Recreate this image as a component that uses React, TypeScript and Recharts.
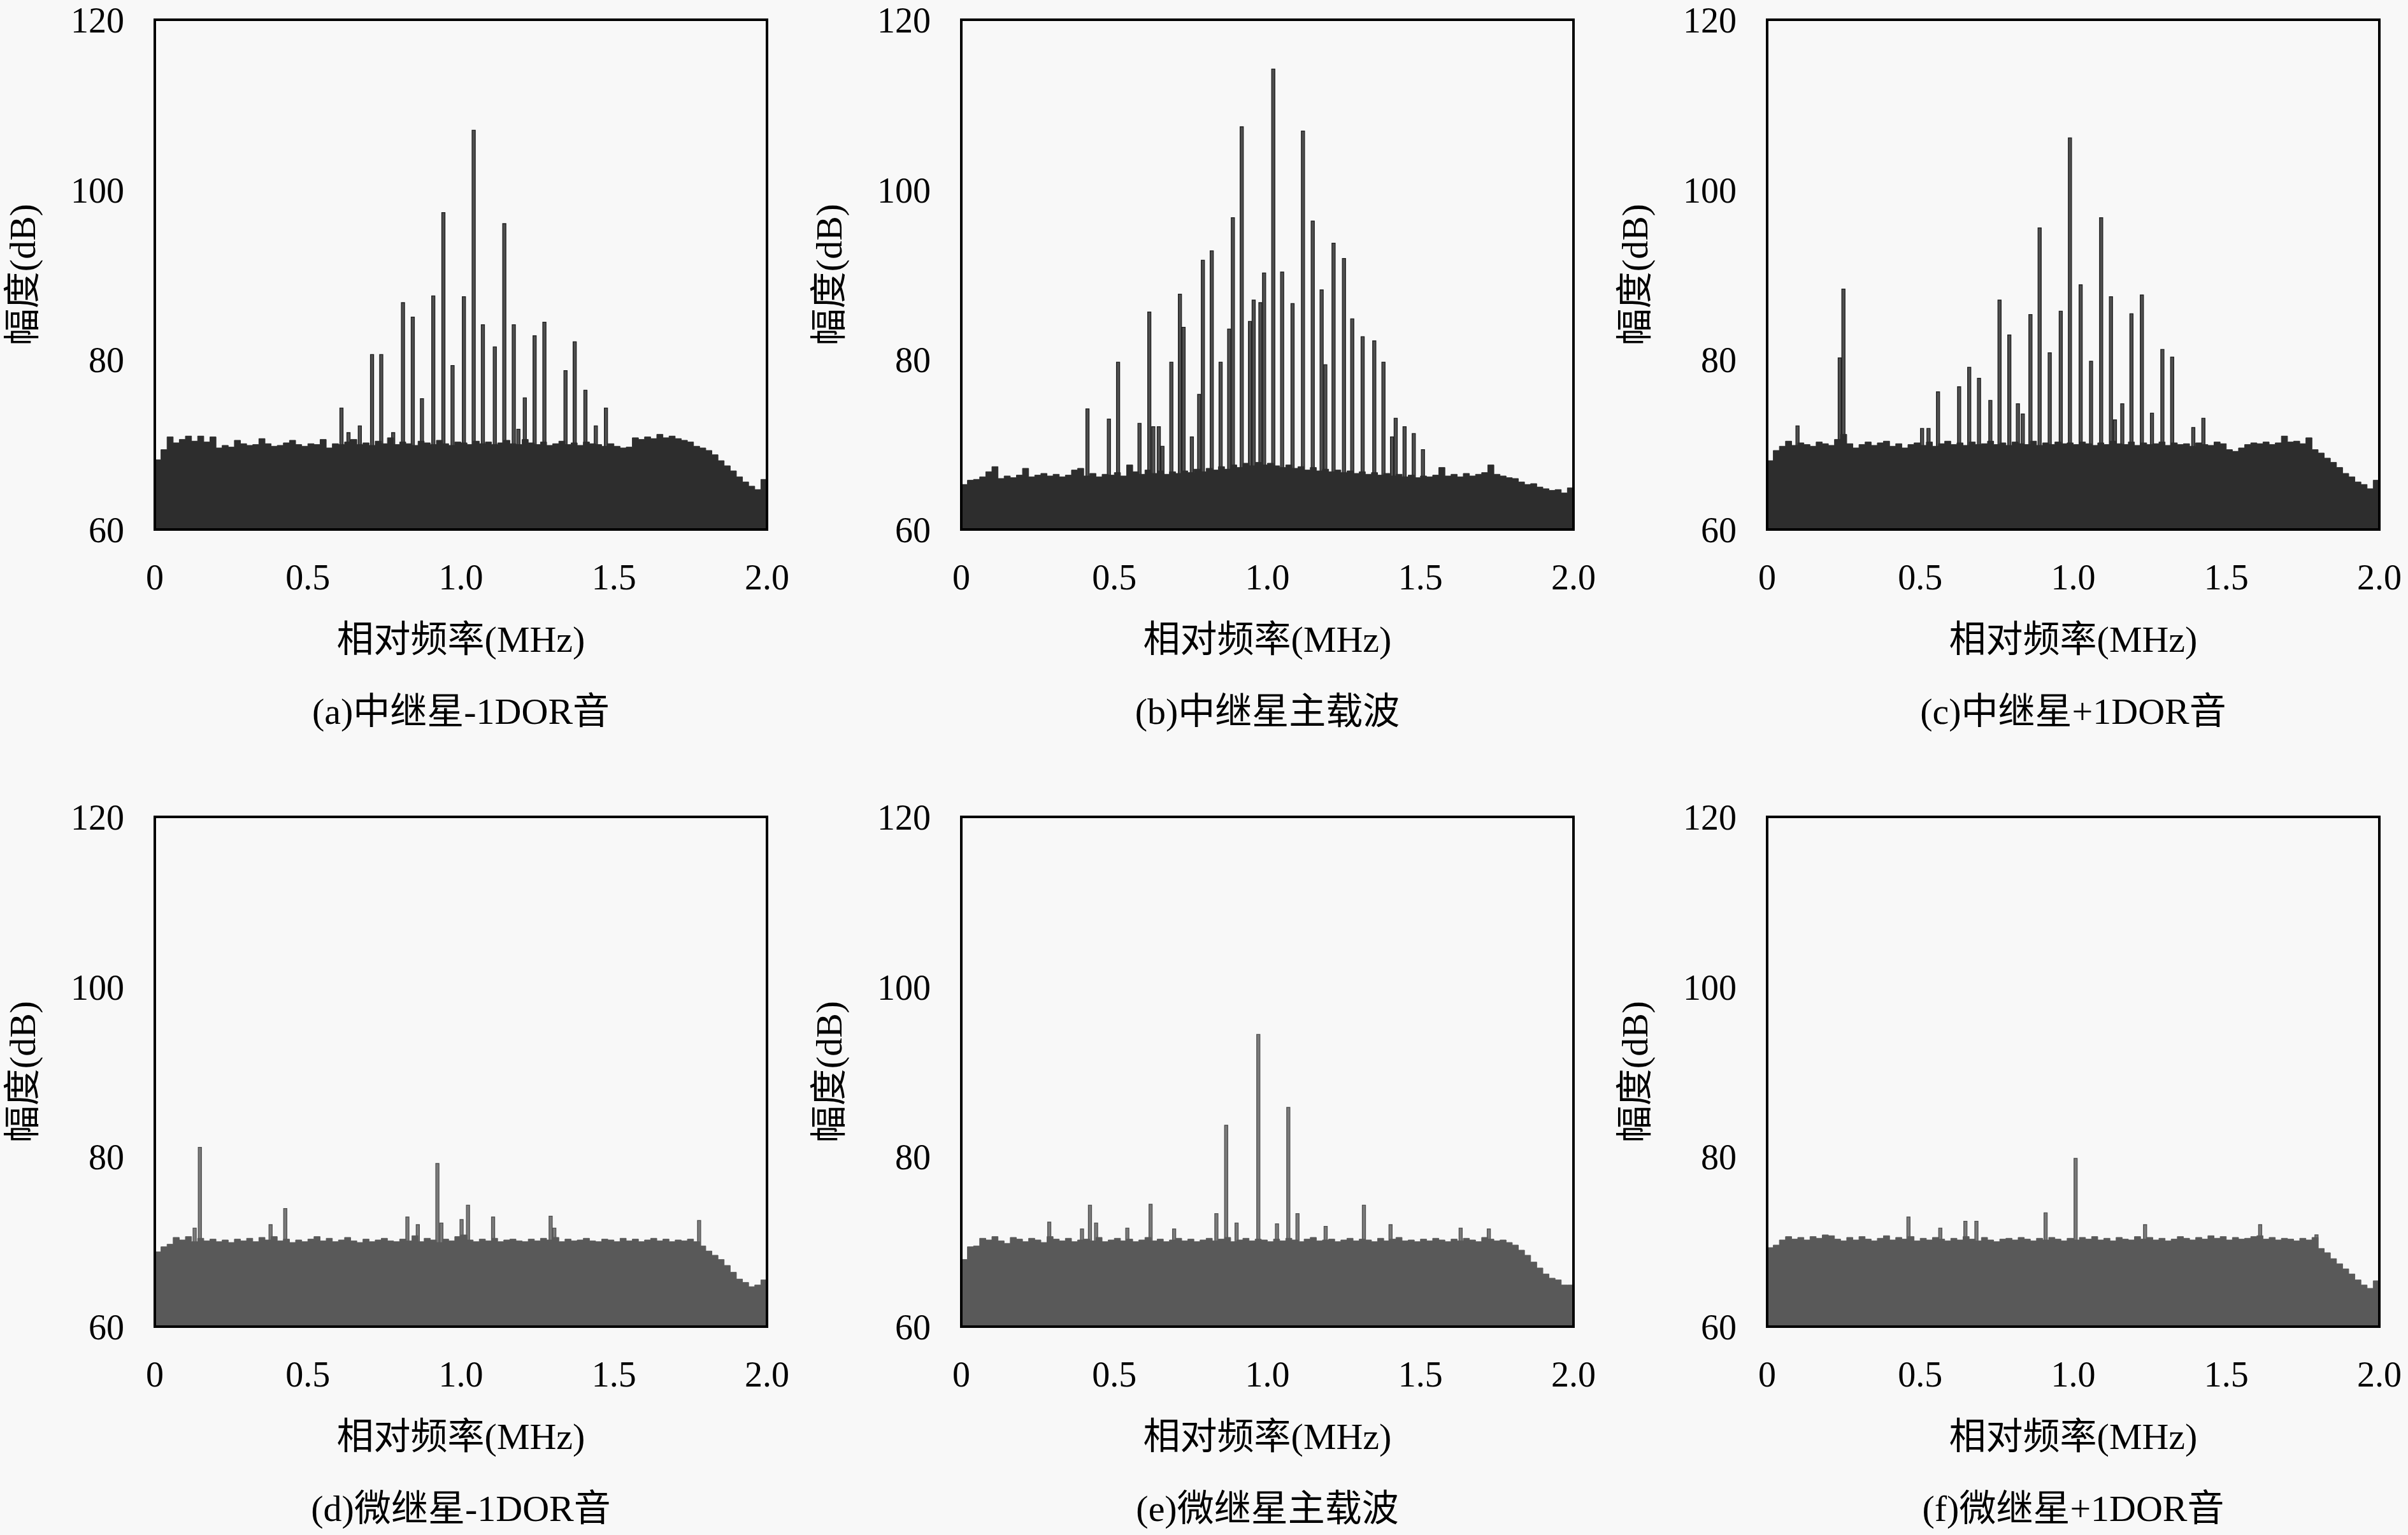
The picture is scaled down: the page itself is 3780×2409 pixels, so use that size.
import { Area, AreaChart, Bar, BarChart, XAxis, YAxis } from "recharts";

const SERIF = "'Liberation Serif', 'DejaVu Serif', 'Noto Sans CJK SC', serif";

// spectrum bins (MHz), one floor value per bin
const BIN_MHZ = [
  0, 0.02, 0.04, 0.06, 0.08, 0.1, 0.12, 0.14, 0.16, 0.18,
  0.2, 0.22, 0.24, 0.26, 0.28, 0.3, 0.32, 0.34, 0.36, 0.38,
  0.4, 0.42, 0.44, 0.46, 0.48, 0.5, 0.52, 0.54, 0.56, 0.58,
  0.6, 0.62, 0.64, 0.66, 0.68, 0.7, 0.72, 0.74, 0.76, 0.78,
  0.8, 0.82, 0.84, 0.86, 0.88, 0.9, 0.92, 0.94, 0.96, 0.98,
  1.0, 1.02, 1.04, 1.06, 1.08, 1.1, 1.12, 1.14, 1.16, 1.18,
  1.2, 1.22, 1.24, 1.26, 1.28, 1.3, 1.32, 1.34, 1.36, 1.38,
  1.4, 1.42, 1.44, 1.46, 1.48, 1.5, 1.52, 1.54, 1.56, 1.58,
  1.6, 1.62, 1.64, 1.66, 1.68, 1.7, 1.72, 1.74, 1.76, 1.78,
  1.8, 1.82, 1.84, 1.86, 1.88, 1.9, 1.92, 1.94, 1.96, 1.98,
  2.0,
];

const X_TICKS = [0, 0.5, 1, 1.5, 2];
const Y_TICKS = [60, 80, 100, 120];
const X_TITLE = "相对频率(MHz)";
const Y_TITLE = "幅度(dB)";

const FLOOR_A = [
  68.2, 69.4, 70.9, 70.2, 70.6, 71.0, 70.4, 71.0, 70.3, 70.9,
  69.6, 69.9, 69.7, 70.5, 70.1, 69.9, 70.0, 70.7, 70.1, 69.8,
  69.9, 70.2, 70.5, 70.0, 69.8, 70.1, 70.0, 70.6, 69.6, 70.1,
  70.0, 70.3, 70.6, 70.0, 70.2, 69.9, 70.4, 70.1, 70.8, 70.0,
  70.3, 70.1, 69.9, 70.4, 70.2, 70.0, 70.5, 70.1, 69.9, 70.3,
  70.2, 70.0, 70.4, 70.1, 70.3, 70.0, 70.2, 70.5, 70.1, 70.0,
  70.6, 70.2, 70.0, 70.3, 69.9, 70.1, 70.4, 70.0, 70.2, 69.9,
  70.3, 70.1, 70.0, 69.8, 70.1, 69.8, 69.6, 69.7, 70.8, 70.6,
  70.9, 70.7, 71.2, 70.8, 71.0, 70.7, 70.5, 70.3, 69.8, 69.6,
  69.3, 68.8, 68.1, 67.5, 66.9, 66.2, 65.6, 65.1, 64.7, 65.9,
  64.4,
];
const FLOOR_B = [
  65.3, 65.8, 65.9, 66.2, 66.8, 67.4, 66.0, 66.3, 66.1, 66.4,
  67.2, 66.2, 66.4, 66.6, 66.3, 66.5, 66.2, 66.4, 67.0, 67.2,
  66.3, 66.6, 66.2, 66.5, 66.4, 66.7, 66.3, 67.6, 66.8, 66.5,
  67.0, 66.6, 66.9, 66.5, 66.8, 66.6, 66.9, 66.7, 67.1, 66.8,
  67.2, 67.0, 67.4, 67.1, 67.6, 67.3, 67.8, 67.5, 67.9, 67.6,
  67.8, 67.5, 67.3, 67.6, 67.2, 67.4, 67.0, 67.3, 66.9, 67.1,
  66.8, 67.0, 66.7, 66.9, 66.6, 66.8, 66.5, 66.7, 66.4, 66.6,
  66.3, 66.5, 66.2, 66.4, 66.1, 66.3, 66.2, 66.4, 67.3, 66.3,
  66.5, 66.2, 66.6, 66.3, 66.5, 66.7, 67.6, 66.5, 66.3, 66.1,
  66.0, 65.6, 65.3, 65.4, 65.0, 64.8, 64.6, 64.7, 64.3, 64.9,
  63.8,
];
const FLOOR_C = [
  68.1, 69.3, 69.8, 70.4, 69.9, 70.2, 70.0, 69.8, 70.3, 70.1,
  69.9, 70.6, 71.2, 70.1, 69.6, 70.0, 70.3, 69.9, 70.2, 70.4,
  69.8, 70.1, 69.6, 70.0, 70.2, 69.9, 70.3, 69.8, 70.1, 70.4,
  70.0, 70.2, 69.9, 70.3, 70.0, 70.1, 70.4, 70.0, 70.2, 69.9,
  70.3, 70.1, 70.0, 70.4, 69.9, 70.2, 70.0, 70.3, 70.1, 70.2,
  70.0, 70.3, 70.1, 69.9, 70.2, 70.0, 70.4, 70.1, 70.0, 70.3,
  69.9, 70.2, 70.0, 70.1, 70.3, 69.9, 70.2, 70.0, 70.1, 69.8,
  70.2, 70.0, 69.9, 70.3, 70.1, 69.4, 69.2, 69.6, 70.0, 70.2,
  70.1, 70.3, 70.0, 70.2, 71.0, 70.3, 70.4, 70.1, 70.8, 69.4,
  69.0, 68.4, 67.9, 67.3, 66.6, 66.2, 65.6, 65.3, 64.8, 65.8,
  63.6,
];
const FLOOR_D = [
  68.8, 69.4, 69.7, 70.5, 70.2, 70.6, 70.0, 70.4, 70.1, 70.3,
  70.0, 70.2, 69.9, 70.3, 70.1, 70.4, 70.0, 70.5, 70.2, 70.6,
  70.1, 70.3, 69.9, 70.2, 70.0, 70.3, 70.6, 70.1, 70.4, 70.0,
  70.2, 70.5, 70.1, 69.9, 70.3, 70.0, 70.2, 70.4, 70.1, 70.0,
  70.3, 70.1, 70.7, 70.0, 70.4, 70.2, 69.9, 70.3, 70.1, 70.6,
  70.8, 70.2, 70.0, 70.3, 70.1, 70.4, 70.0, 70.2, 70.3, 70.1,
  70.0, 70.3, 70.1, 70.4, 70.2, 70.5, 70.0, 70.3, 70.1, 70.2,
  70.4, 70.1, 70.0, 70.3, 70.2, 70.0, 70.4, 70.1, 70.3, 70.0,
  70.2, 70.4, 70.1, 70.3, 70.0, 70.2, 70.1, 70.3, 70.0, 69.5,
  68.9, 68.4, 67.9, 67.2, 66.4, 65.6, 65.2, 64.7, 64.9, 65.5,
  64.4,
];
const FLOOR_E = [
  67.9, 69.4, 69.5, 70.4, 70.2, 70.6, 70.1, 69.8, 70.5, 70.3,
  70.0, 70.4, 70.2, 69.9, 70.6, 70.3, 70.1, 70.4, 70.0, 70.2,
  70.3, 70.1, 70.5, 70.0, 70.2, 70.4, 70.1, 70.3, 70.0, 70.2,
  70.5, 70.1, 70.3, 70.0, 70.2, 70.4, 70.1, 70.3, 70.0, 70.2,
  70.4, 70.1, 70.3, 70.5, 70.0, 70.2, 70.4, 70.1, 70.3, 70.2,
  70.0, 70.3, 70.1, 70.4, 70.2, 70.0, 70.3, 70.5, 70.1, 70.2,
  70.3, 70.0, 70.2, 70.4, 70.1, 70.3, 70.2, 70.0, 70.4, 70.1,
  70.3, 70.5, 70.1, 70.2, 70.0, 70.3, 70.1, 70.4, 70.2, 70.0,
  70.3, 70.1, 70.4, 70.2, 70.0, 70.5, 70.3, 70.1, 70.2, 69.9,
  69.6, 69.0, 68.4, 67.6, 66.9, 66.2, 65.7, 65.5, 64.9, 64.9,
  66.6,
];
const FLOOR_F = [
  69.3, 69.6, 70.2, 70.6, 70.3, 70.5, 70.2, 70.6, 70.4, 70.8,
  70.7, 70.3, 70.1, 70.5, 70.2, 70.6, 70.3, 70.1, 70.4, 70.7,
  70.2, 70.5, 70.3, 70.6, 70.1, 70.4, 70.2, 70.5, 70.3, 70.1,
  70.4, 70.2, 70.6, 70.3, 70.1, 70.5, 70.2, 70.0, 70.3, 70.4,
  70.2, 70.5, 70.3, 70.1, 70.4, 70.2, 70.5, 70.3, 70.1, 70.4,
  70.2, 70.5, 70.3, 70.6, 70.2, 70.4, 70.1, 70.5, 70.3, 70.2,
  70.6, 70.3, 70.5, 70.2, 70.4, 70.1, 70.3, 70.6, 70.4, 70.2,
  70.5, 70.3, 70.7, 70.4, 70.6, 70.2, 70.5, 70.3, 70.4, 70.6,
  70.7, 70.3, 70.5, 70.2, 70.4, 70.3, 70.1, 70.4, 70.2, 70.5,
  69.2, 68.7, 68.0, 67.4, 66.8, 66.2, 65.5, 64.9, 64.5, 65.4,
  65.9,
];

// [MHz, dB] of the discrete lines standing above the floor
const SPIKES_A: [number, number][] = [
  [0.61, 74.3], [0.633, 71.4], [0.67, 72.2], [0.71, 80.6], [0.74, 80.6],
  [0.779, 71.4], [0.811, 86.7], [0.843, 85.0], [0.873, 75.4], [0.91, 87.5],
  [0.943, 97.3], [0.973, 79.3], [1.01, 87.4], [1.042, 107.0], [1.072, 84.1],
  [1.111, 81.5], [1.142, 96.0], [1.173, 84.1], [1.188, 71.8], [1.209, 75.5],
  [1.241, 82.8], [1.273, 84.4], [1.342, 78.7], [1.372, 82.1], [1.407, 76.4],
  [1.441, 72.2], [1.474, 74.3],
];
const SPIKES_B: [number, number][] = [
  [0.413, 74.2], [0.483, 73.0], [0.513, 79.7], [0.583, 72.5], [0.615, 85.6],
  [0.628, 72.1], [0.646, 72.1], [0.658, 69.8], [0.687, 79.7], [0.715, 87.7],
  [0.727, 83.8], [0.754, 70.9], [0.778, 75.9], [0.79, 91.7], [0.819, 92.8],
  [0.848, 79.7], [0.876, 83.6], [0.888, 96.7], [0.917, 107.4], [0.944, 84.5],
  [0.956, 87.0], [0.978, 86.7], [0.99, 90.2], [1.02, 114.2], [1.049, 90.3],
  [1.083, 86.6], [1.117, 106.9], [1.149, 96.3], [1.178, 88.2], [1.19, 79.4],
  [1.217, 93.7], [1.251, 91.9], [1.278, 84.8], [1.312, 82.7], [1.35, 82.2],
  [1.38, 79.7], [1.408, 70.9], [1.42, 73.1], [1.449, 72.1], [1.479, 71.3],
  [1.509, 69.4],
];
const SPIKES_C: [number, number][] = [
  [0.1, 72.2], [0.238, 80.2], [0.25, 88.3], [0.507, 71.9], [0.528, 71.9],
  [0.559, 76.2], [0.628, 76.8], [0.661, 79.1], [0.693, 77.8], [0.73, 75.2],
  [0.76, 87.0], [0.792, 82.9], [0.82, 74.8], [0.836, 73.6], [0.861, 85.3],
  [0.891, 95.5], [0.924, 80.8], [0.96, 85.7], [0.99, 106.1], [1.025, 88.8],
  [1.059, 79.8], [1.092, 96.7], [1.124, 87.4], [1.137, 72.9], [1.161, 74.8],
  [1.191, 85.4], [1.225, 87.6], [1.258, 73.7], [1.292, 81.2], [1.324, 80.3],
  [1.393, 72.0], [1.426, 73.1],
];
const SPIKES_D: [number, number][] = [
  [0.131, 71.6], [0.148, 81.1], [0.379, 72.0], [0.427, 73.9], [0.826, 72.9],
  [0.86, 72.0], [0.924, 79.2], [0.937, 72.2], [1.003, 72.6], [1.024, 74.3],
  [1.106, 72.9], [1.294, 73.0], [1.306, 71.6], [1.779, 72.5],
];
const SPIKES_E: [number, number][] = [
  [0.288, 72.3], [0.395, 71.5], [0.421, 74.3], [0.441, 72.2], [0.543, 71.6],
  [0.619, 74.4], [0.696, 71.5], [0.834, 73.3], [0.866, 83.7], [0.9, 72.2],
  [0.971, 94.4], [1.032, 72.1], [1.069, 85.8], [1.099, 73.3], [1.191, 71.8],
  [1.316, 74.3], [1.403, 72.0], [1.632, 71.6], [1.724, 71.5],
];
const SPIKES_F: [number, number][] = [
  [0.462, 72.9], [0.566, 71.6], [0.648, 72.4], [0.684, 72.4], [0.91, 73.4],
  [1.008, 79.8], [1.235, 72.0], [1.611, 72.0], [1.795, 70.8],
];

const CAPTIONS = [
  "(a)中继星-1DOR音",
  "(b)中继星主载波",
  "(c)中继星+1DOR音",
  "(d)微继星-1DOR音",
  "(e)微继星主载波",
  "(f)微继星+1DOR音",
];

const CHART_W = 1260;
const CHART_H = 991;
const TOP = 31;
const LEFT = 243;
const RIGHT = 56;
const X_AXIS_H = 100;
const BOTTOM_PAD = 60;

const axisLine = { stroke: "#000", strokeWidth: 4, strokeLinecap: "square" as const };
const tickLine = { stroke: "#000", strokeWidth: 3 };
const tickFont = { fontSize: 56, fill: "#000", fontFamily: SERIF };

function Panel({
  floor,
  spikes,
  caption,
  dark,
  left,
  top
}: {
  floor: number[];
  spikes: [number, number][];
  caption: string;
  dark: boolean;
  left: number;
  top: number;
}) {
  const floorRows = BIN_MHZ.map((f, i) => ({ f, db: floor[i] }));
  const spikeRows = spikes.map(([f, db]) => ({ f, db }));
  const floorColor = dark ? "#2d2d2d" : "#595959";
  const spikeFill = dark ? "#4f4f4f" : "#7a7a7a";
  const spikeStroke = dark ? "#1e1e1e" : "#505050";
  const plotW = CHART_W - LEFT - RIGHT;
  const plotH = CHART_H - TOP - X_AXIS_H - BOTTOM_PAD;

  return (
    <div style={{ position: "absolute", left, top, width: CHART_W, height: 1180 }}>
      {/* spikes underneath, so the floor hides their feet */}
      <div style={{ position: "absolute", left: 0, top: 0 }}>
        <BarChart
          width={CHART_W}
          height={CHART_H}
          data={spikeRows}
          margin={{ top: TOP, right: RIGHT, left: LEFT, bottom: X_AXIS_H + BOTTOM_PAD }}
        >
          <XAxis dataKey="f" type="number" domain={[0, 2]} hide />
          <YAxis type="number" domain={[60, 120]} allowDataOverflow hide />
          <Bar
            dataKey="db"
            barSize={5}
            fill={spikeFill}
            stroke={spikeStroke}
            strokeWidth={1.3}
            isAnimationActive={false}
          />
        </BarChart>
      </div>

      <div style={{ position: "absolute", left: 0, top: 0 }}>
        <AreaChart
          width={CHART_W}
          height={CHART_H}
          data={floorRows}
          margin={{ top: TOP, right: RIGHT, left: 0, bottom: BOTTOM_PAD }}
        >
          <XAxis
            xAxisId="bottom"
            dataKey="f"
            type="number"
            domain={[0, 2]}
            ticks={X_TICKS}
            tickFormatter={(v: number) => (v === 0 ? "0" : v.toFixed(1))}
            tick={tickFont}
            tickLine={false}
            tickSize={0}
            tickMargin={54}
            axisLine={axisLine}
            height={X_AXIS_H}
            interval={0}
          />
          <XAxis
            xAxisId="top"
            orientation="top"
            dataKey="f"
            type="number"
            domain={[0, 2]}
            ticks={X_TICKS}
            mirror
            tick={false}
            tickSize={13}
            tickLine={tickLine}
            axisLine={axisLine}
          />
          <YAxis
            yAxisId="left"
            type="number"
            domain={[60, 120]}
            ticks={Y_TICKS}
            allowDataOverflow
            width={LEFT}
            tick={tickFont}
            tickLine={false}
            tickSize={0}
            tickMargin={48}
            axisLine={axisLine}
            interval={0}
          />
          <YAxis
            yAxisId="inner"
            type="number"
            domain={[60, 120]}
            ticks={Y_TICKS}
            mirror
            tick={false}
            tickSize={13}
            tickLine={tickLine}
            axisLine={false}
          />
          <YAxis
            yAxisId="right"
            orientation="right"
            type="number"
            domain={[60, 120]}
            ticks={Y_TICKS}
            mirror
            tick={false}
            tickSize={13}
            tickLine={tickLine}
            axisLine={axisLine}
          />
          <Area
            xAxisId="bottom"
            yAxisId="left"
            type="stepAfter"
            dataKey="db"
            stroke={floorColor}
            strokeWidth={1}
            fill={floorColor}
            fillOpacity={1}
            dot={false}
            activeDot={false}
            isAnimationActive={false}
          />
        </AreaChart>
      </div>

      <div
        style={{
          position: "absolute",
          left: -174,
          top: TOP + plotH / 2 - 31,
          width: 420,
          height: 62,
          lineHeight: "62px",
          textAlign: "center",
          fontFamily: SERIF,
          fontSize: 58,
          color: "#000",
          transform: "rotate(-90deg)",
          whiteSpace: "nowrap"
        }}
      >
        {Y_TITLE}
      </div>
      <div
        style={{
          position: "absolute",
          left: LEFT,
          top: TOP + plotH + 142,
          width: plotW,
          lineHeight: "62px",
          textAlign: "center",
          fontFamily: SERIF,
          fontSize: 58,
          color: "#000",
          whiteSpace: "nowrap"
        }}
      >
        {X_TITLE}
      </div>
      <div
        style={{
          position: "absolute",
          left: LEFT,
          top: TOP + plotH + 255,
          width: plotW,
          lineHeight: "62px",
          textAlign: "center",
          fontFamily: SERIF,
          fontSize: 58,
          color: "#000",
          whiteSpace: "nowrap"
        }}
      >
        {caption}
      </div>
    </div>
  );
}

const COL_LEFT = [0, 1266, 2531];
const ROW_TOP = [0, 1251];

export default function App() {
  const panels = [
    { floor: FLOOR_A, spikes: SPIKES_A, dark: true },
    { floor: FLOOR_B, spikes: SPIKES_B, dark: true },
    { floor: FLOOR_C, spikes: SPIKES_C, dark: true },
    { floor: FLOOR_D, spikes: SPIKES_D, dark: false },
    { floor: FLOOR_E, spikes: SPIKES_E, dark: false },
    { floor: FLOOR_F, spikes: SPIKES_F, dark: false }
  ];

  return (
    <div
      style={{
        position: "absolute",
        left: 0,
        top: 0,
        width: 3780,
        height: 2409,
        background: "#f8f8f8",
        overflow: "hidden"
      }}
    >
      {panels.map((p, i) => (
        <Panel
          key={CAPTIONS[i]}
          floor={p.floor}
          spikes={p.spikes}
          caption={CAPTIONS[i]}
          dark={p.dark}
          left={COL_LEFT[i % 3]}
          top={ROW_TOP[Math.floor(i / 3)]}
        />
      ))}
    </div>
  );
}
